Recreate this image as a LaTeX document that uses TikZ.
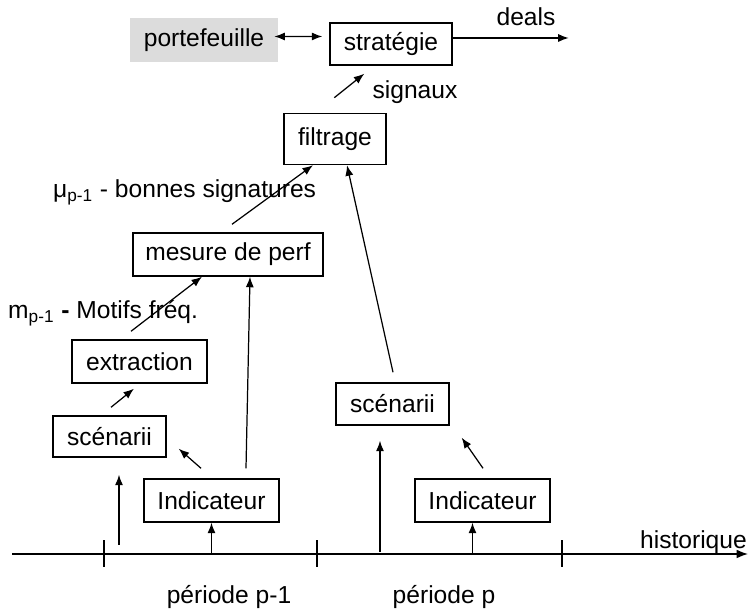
\documentclass[tikz,border=0pt]{standalone}
\usepackage{fontspec}
\setmainfont{Liberation Sans}
\usetikzlibrary{calc,arrows.meta}
\definecolor{pfgray}{RGB}{220,220,220}
\tikzset{
   box/.style = {draw, line width=0.8pt, minimum height=0.86cm, inner sep=0pt},
   link/.style = {-{Latex[length=6pt,width=4.6pt]}, line width=0.7pt},
}

\begin{document}
\begin{tikzpicture}[font=\fontsize{14}{16}\selectfont]
		\useasboundingbox (0,0) rectangle (14.98,12.22);

		% Boxes
		\node[fill=pfgray, minimum width=2.96cm, minimum height=0.88cm] (portef) at (4.08,11.42) {portefeuille};
		\node[box, minimum width=2.44cm, minimum height=0.84cm] (strat) at (7.82,11.34) {stratégie};
		\node[box, minimum width=2.04cm, minimum height=1.02cm] (filtr) at (6.70,9.44) {filtrage};
		\node[box, minimum width=3.8cm] (mesure) at (4.56,7.13) {mesure de perf};
		\node[box, minimum width=2.7cm] (extr) at (2.79,4.99) {extraction};
		\node[box, minimum width=2.26cm, minimum height=0.82cm] (scenA) at (2.19,3.49) {scénarii};
		\node[box, minimum width=2.7cm] (indA) at (4.23,2.21) {Indicateur};
		\node[box, minimum width=2.26cm, minimum height=0.84cm] (scenB) at (7.85,4.14) {scénarii};
		\node[box, minimum width=2.7cm] (indB) at (9.65,2.21) {Indicateur};

		% Labels
		\node[anchor=west] (mu) at (0.94,8.38) {μ\textsubscript{p-1} - bonnes signatures};
		\node[anchor=west] (motifs) at (0.04,5.96) {m\textsubscript{p-1} \textbf{-} Motifs fréq.};
		\node (deals) at (10.52,11.88) {deals};
		\node (signaux) at (8.3,10.38) {signaux};

		% Axis
		\draw[-{Latex[length=6.5pt,width=5pt]}, line width=0.8pt] (0.24,1.14) -- (14.96,1.14);
		\foreach \x in {2.08,6.34,11.24}
			\draw[line width=0.8pt] (\x,0.88) -- (\x,1.42);
		\node[anchor=east] (hist) at (15.06,1.38) {historique};
		\node (perA) at (4.58,0.28) {période p-1};
		\node (perB) at (8.88,0.28) {période p};

		% From the axis
		\draw[link] (indA.south |- 0,1.14) -- (indA.south);
		\draw[link] ([xshift=-0.2cm]indB.south |- 0,1.14) -- ([xshift=-0.2cm]indB.south);
		\draw[link, shorten >=0.34cm] ([xshift=0.19cm]scenA.south |- 0,1.32) -- ([xshift=0.19cm]scenA.south);
		\draw[link, shorten >=0.30cm] ([xshift=-0.25cm]scenB.south |- 0,1.18) -- ([xshift=-0.25cm]scenB.south);

		% Links
		\draw[link] ($(indA.north)+(-0.21,0.20)$) -- ($(scenA.south east)+(0.24,0.18)$);
		\draw[link] ($(indB.north)+(0.01,0.20)$) -- ($(scenB.south east)+(0.24,-0.24)$);
		\draw[link] ($(indA.north)+(0.69,0.20)$) -- ($(mesure.south)+(0.44,0)$);
		\draw[link] ($(scenA.north)+(0.03,0.16)$) -- ($(extr.south)+(-0.11,-0.10)$);
		\draw[link] ($(extr.north)+(-0.17,0.16)$) -- ($(mesure.south)+(-0.52,0)$);
		\draw[link] ($(mesure.north)+(0.08,0.16)$) -- ($(filtr.south)+(-0.44,0)$);
		\draw[link] ($(scenB.north)+(0.01,0.20)$) -- ($(filtr.south)+(0.24,0)$);
		\draw[link] ($(strat.south west)+(0.10,-0.64)$) -- ($(strat.south west)+(0.70,-0.16)$);

		% Top
		\draw[link, {Latex[length=6pt,width=4.6pt]}-{Latex[length=6pt,width=4.6pt]}] ($(portef.east)+(-0.08,0.07)$) -- ($(strat.west)+(-0.14,0.15)$);
		\draw[link] ([yshift=0.12cm]strat.east) -- ++(2.32,0);
	\end{tikzpicture}
\end{document}
